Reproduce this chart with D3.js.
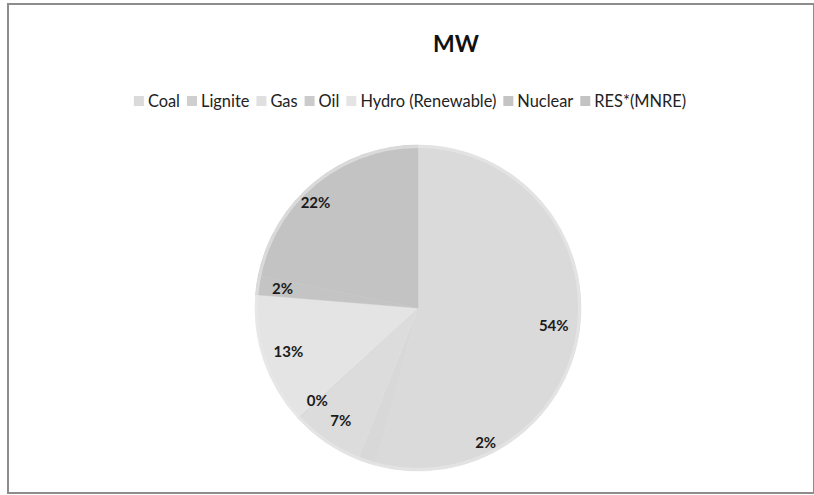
<!DOCTYPE html>
<html>
<head>
<meta charset="utf-8">
<script src="https://cdn.jsdelivr.net/npm/d3@7"></script>
<style>
  html, body { margin: 0; padding: 0; background: #fff; }
  svg { display: block; font-family: Lato, "Open Sans", "Liberation Sans", sans-serif; }
</style>
</head>
<body>
<svg id="chart" width="814" height="495"></svg>
<script>
// Installed capacity share by source (percent of total MW)
const categories = ["Coal", "Lignite", "Gas", "Oil", "Hydro (Renewable)", "Nuclear", "RES*(MNRE)"];
const shares = [54.2, 1.8, 7.1, 0.1, 13.1, 1.9, 21.8];
const sliceColors = ["#dadada", "#d8d8d8", "#dcdcdc", "#d2d2d2", "#e4e4e4", "#c4c4c4", "#c3c3c3"];
const legendColors = ["#dadada", "#cfcfcf", "#e0e0e0", "#cbcbcb", "#e4e4e4", "#c4c4c4", "#c3c3c3"];
const chartTitle = "MW";

const W = 814, H = 495;
const svg = d3.select("#chart");

// outer frame
svg.append("rect")
  .attr("x", 8).attr("y", 4).attr("width", W - 8).attr("height", H - 6)
  .attr("fill", "#fff").attr("stroke", "#8c8c8c").attr("stroke-width", 2);

// title
svg.append("text")
  .attr("x", 456).attr("y", 52)
  .attr("text-anchor", "middle")
  .attr("font-size", 23).attr("font-weight", "bold").attr("fill", "#111")
  .text(chartTitle);

// legend, laid out left to right and centred
const legend = svg.append("g").attr("font-size", 16.4).attr("fill", "#222");
const sw = 10, gapIn = 4, gapOut = 7;
let x = 0;
categories.forEach((c, i) => {
  const g = legend.append("g");
  g.append("rect").attr("x", 0).attr("y", -sw / 2).attr("width", sw).attr("height", sw)
    .attr("fill", legendColors[i]);
  const t = g.append("text").attr("x", sw + gapIn).attr("y", 5.5).text(c);
  const w = sw + gapIn + t.node().getComputedTextLength();
  g.attr("transform", `translate(${x},0)`);
  x += w + gapOut;
});
const legendWidth = x - gapOut;
legend.attr("transform", `translate(${410 - legendWidth / 2},101)`);

// pie
const cx = 418, cy = 308, R = 163;
const pie = d3.pie().sort(null).value(d => d)(shares);
const arc = d3.arc().innerRadius(0).outerRadius(R);
const g = svg.append("g").attr("transform", `translate(${cx},${cy})`);

g.selectAll("path.slice")
  .data(pie)
  .join("path")
  .attr("class", "slice")
  .attr("d", arc)
  .attr("fill", (d, i) => sliceColors[i])
  .attr("stroke", (d, i) => sliceColors[i]).attr("stroke-width", 0.5);

// soft rim around the edge
g.append("circle").attr("r", R - 1.5).attr("fill", "none")
  .attr("stroke", "#e9e9e9").attr("stroke-width", 3).attr("opacity", 0.6);

// data labels; small slices that would collide are nudged along the rim
const labelNudge = { 1: { da: -45, dr: 14 }, 6: { da: -5, dr: 10 } };
const fmt = v => Math.round(v) + "%";
g.selectAll("text.lbl")
  .data(pie)
  .join("text")
  .attr("class", "lbl")
  .attr("text-anchor", "middle")
  .attr("font-size", 15).attr("font-weight", "bold").attr("fill", "#1a1a1a")
  .attr("transform", (d, i) => {
    const n = labelNudge[i] || { da: 0, dr: 0 };
    const a = (d.startAngle + d.endAngle) / 2 + n.da * Math.PI / 180;
    const r = R * 0.84 + n.dr;
    return `translate(${r * Math.sin(a)},${-r * Math.cos(a) + 5})`;
  })
  .text(d => fmt(d.data));
</script>
</body>
</html>
